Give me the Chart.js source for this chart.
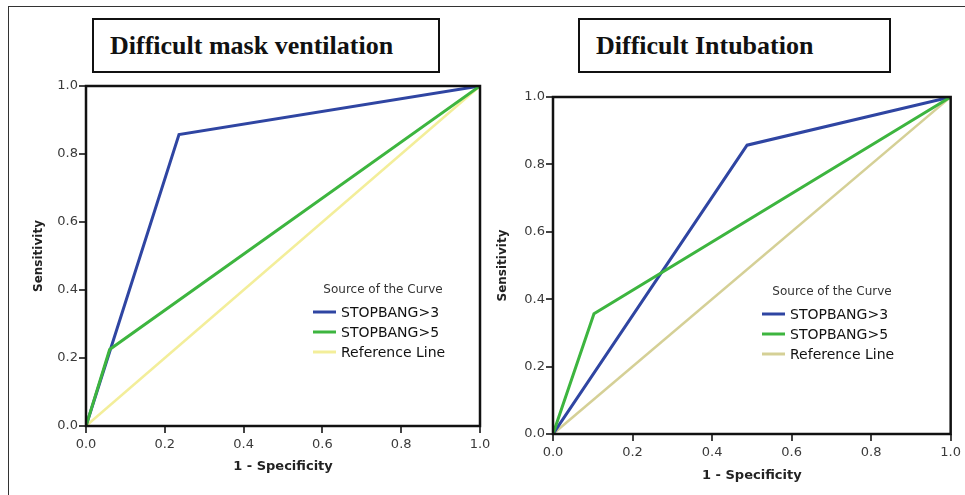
<!DOCTYPE html>
<html lang="en">
<head>
    <meta charset="UTF-8">
    <title>ROC curves - STOPBANG</title>
    <script src="https://cdn.jsdelivr.net/npm/chart.js"></script>
    <style>
        body, html {
            margin: 0;
            width: 965px;
            height: 495px;
            background: #fff;
            overflow: hidden;
        }
        .frame {
            position: absolute;
            left: 8px;
            top: 6px;
            width: 970px;
            height: 500px;
            border-top: 1.5px solid #333;
            border-left: 1.5px solid #333;
        }
        .title-box {
            position: absolute;
            top: 18px;
            height: 51px;
            border: 2px solid #111;
            font-family: "Liberation Serif", "Times New Roman", serif;
            font-weight: bold;
            font-size: 26px;
            line-height: 51px;
            padding-left: 16px;
            box-sizing: content-box;
            color: #111;
        }
        .chart-wrap {
            position: absolute;
            top: 0;
        }
    </style>
</head>
<body>
    <div class="frame"></div>
    <div class="title-box" style="left:92px; width:328px;">Difficult mask ventilation</div>
    <div class="title-box" style="left:578px; width:293px;">Difficult Intubation</div>

    <div class="chart-wrap" style="left:0px;"><canvas id="chart1" width="500" height="495"></canvas></div>
    <div class="chart-wrap" style="left:490px;"><canvas id="chart2" width="475" height="495"></canvas></div>

    <script>
        // values
        const seriesNames = ['STOPBANG>3', 'STOPBANG>5', 'Reference Line'];
        const tickValues = [0.0, 0.2, 0.4, 0.6, 0.8, 1.0];

        const maskX3 = [0, 0.236, 1];
        const maskY3 = [0, 0.857, 1];
        const maskX5 = [0, 0.06, 1];
        const maskY5 = [0, 0.225, 1];

        const intubX3 = [0, 0.488, 1];
        const intubY3 = [0, 0.857, 1];
        const intubX5 = [0, 0.103, 1];
        const intubY5 = [0, 0.357, 1];

        const refX = [0, 1];
        const refY = [0, 1];

        function pts(xs, ys) {
            return xs.map(function(x, i) { return {x: x, y: ys[i]}; });
        }

        // black box round the plot area plus the "Source of the Curve" legend
        const rocDecor = {
            id: 'rocDecor',
            afterDraw: function(chart, args, opts) {
                const ctx = chart.ctx;
                const a = chart.chartArea;
                ctx.save();
                ctx.strokeStyle = '#111';
                ctx.lineWidth = 2.5;
                ctx.strokeRect(a.left, a.top, a.right - a.left, a.bottom - a.top);

                const lx = a.left + opts.x;
                let ly = a.top + opts.y;
                ctx.fillStyle = '#333';
                ctx.font = '12px "DejaVu Sans"';
                ctx.textAlign = 'center';
                ctx.textBaseline = 'middle';
                ctx.fillText('Source of the Curve', lx + 70, ly);
                ly += 22;
                ctx.textAlign = 'left';
                ctx.font = '14px "DejaVu Sans"';
                chart.data.datasets.forEach(function(ds) {
                    ctx.strokeStyle = ds.borderColor;
                    ctx.lineWidth = 3;
                    ctx.beginPath();
                    ctx.moveTo(lx, ly);
                    ctx.lineTo(lx + 23, ly);
                    ctx.stroke();
                    ctx.fillStyle = '#111';
                    ctx.fillText(ds.label, lx + 28, ly + 1);
                    ly += 20;
                });
                ctx.restore();
            }
        };

        function makeChart(id, s3, s5, refColor, pad, yW, xH, yTitlePad, xTitlePad, legendPos) {
            const tickFont = {family: 'DejaVu Sans', size: 13};
            const gridOpts = {
                display: true,
                drawOnChartArea: false,
                drawTicks: true,
                tickLength: 7,
                color: '#444',
                lineWidth: 2
            };
            return new Chart(document.getElementById(id), {
                type: 'line',
                data: {
                    datasets: [
                        {label: seriesNames[0], data: s3, borderColor: '#2f45a2', borderWidth: 3, order: 2},
                        {label: seriesNames[1], data: s5, borderColor: '#3db53f', borderWidth: 3, order: 1},
                        {label: seriesNames[2], data: pts(refX, refY), borderColor: refColor, borderWidth: 2.5, order: 3}
                    ]
                },
                options: {
                    responsive: false,
                    animation: false,
                    layout: {padding: pad},
                    elements: {
                        point: {radius: 0},
                        line: {tension: 0, fill: false}
                    },
                    plugins: {
                        legend: {display: false},
                        tooltip: {enabled: false},
                        rocDecor: legendPos
                    },
                    scales: {
                        x: {
                            type: 'linear',
                            min: 0,
                            max: 1,
                            afterBuildTicks: function(s) { s.ticks = tickValues.map(function(v) { return {value: v}; }); },
                            afterFit: function(s) { s.height = xH; },
                            ticks: {
                                font: tickFont,
                                color: '#3a3a3a',
                                padding: 4,
                                maxRotation: 0,
                                callback: function(v) { return v.toFixed(1); }
                            },
                            grid: gridOpts,
                            border: {display: false},
                            title: {
                                display: true,
                                text: '1 - Specificity',
                                color: '#222',
                                font: {family: 'DejaVu Sans', size: 13, weight: 'bold'},
                                padding: {top: 0, bottom: xTitlePad}
                            }
                        },
                        y: {
                            type: 'linear',
                            min: 0,
                            max: 1,
                            afterBuildTicks: function(s) { s.ticks = tickValues.map(function(v) { return {value: v}; }); },
                            afterFit: function(s) { s.width = yW; },
                            ticks: {
                                font: tickFont,
                                color: '#3a3a3a',
                                padding: 1,
                                callback: function(v) { return v.toFixed(1); }
                            },
                            grid: gridOpts,
                            border: {display: false},
                            title: {
                                display: true,
                                text: 'Sensitivity',
                                color: '#222',
                                font: {family: 'DejaVu Sans', size: 12, weight: 'bold'},
                                padding: {top: yTitlePad, bottom: 0}
                            }
                        }
                    }
                },
                plugins: [rocDecor]
            });
        }

        window.onload = function() {
            makeChart('chart1', pts(maskX3, maskY3), pts(maskX5, maskY5), '#f3ee9a',
                {top: 86, right: 20, left: 0, bottom: 0}, 86, 69, 32, 21, {x: 227, y: 204});
            makeChart('chart2', pts(intubX3, intubY3), pts(intubX5, intubY5), '#d5d096',
                {top: 97, right: 13, left: 0, bottom: 0}, 63, 61, 6, 12, {x: 209, y: 195});
        };
    </script>
</body>
</html>
